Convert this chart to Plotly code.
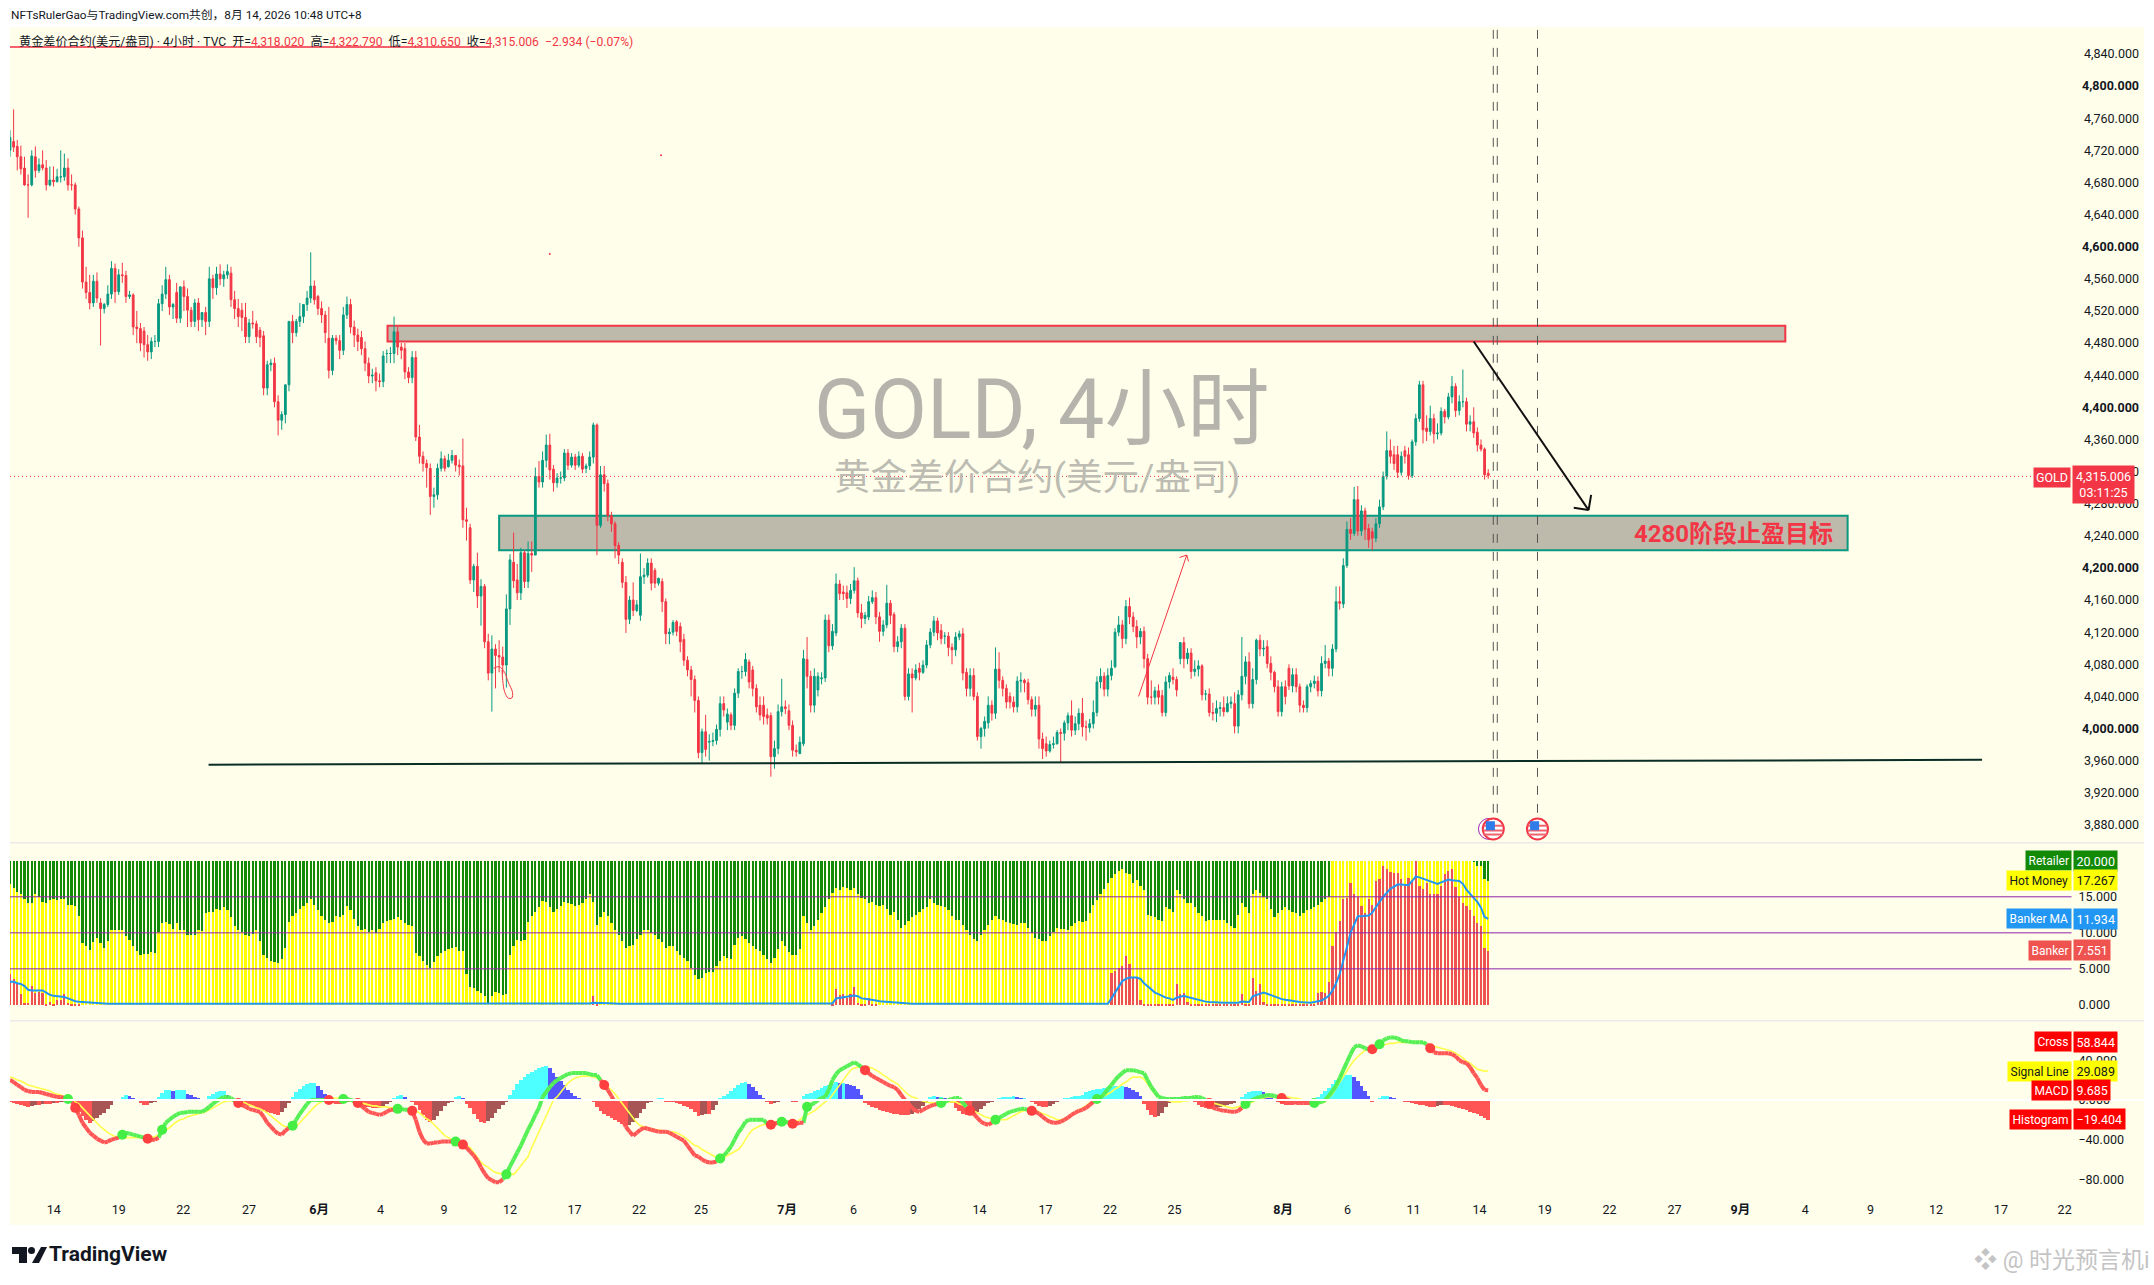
import plotly.graph_objects as go

W = 2154
H = 1285

opens = [
    4720,4731,4725,4712,4698,4677,4677,4712,4695,4702,
    4698,4677,4683,4681,4687,4687,4698,4677,4677,4647,
    4611,4556,4543,4530,4557,4530,4523,4528,4541,4573,
    4544,4565,4564,4538,4540,4500,4498,4495,4478,4469,
    4482,4482,4529,4541,4559,4525,4543,4511,4550,4538,
    4521,4507,4530,4509,4518,4507,4560,4549,4566,4560,
    4565,4567,4534,4523,4521,4512,4488,4505,4504,4496,
    4489,4424,4453,4455,4407,4384,4391,4428,4507,4493,
    4507,4513,4528,4536,4551,4538,4523,4515,4486,4446,
    4486,4483,4471,4515,4528,4500,4490,4487,4473,4455,
    4439,4443,4433,4432,4467,4467,4467,4494,4475,4473,
    4444,4437,4462,4363,4339,4330,4324,4289,4291,4324,
    4336,4326,4334,4340,4328,4327,4260,4250,4185,4202,
    4165,4177,4108,4069,4099,4091,4089,4079,4149,4207,
    4185,4169,4219,4183,4218,4216,4314,4307,4334,4353,
    4323,4306,4312,4312,4343,4328,4338,4328,4339,4324,
    4327,4338,4378,4253,4316,4305,4265,4255,4228,4207,
    4182,4136,4160,4147,4141,4189,4191,4206,4197,4181,
    4183,4158,4118,4120,4133,4127,4111,4085,4073,4061,
    4035,3970,3996,3983,3984,3985,3999,4031,4008,4017,
    4004,4044,4071,4071,4083,4073,4050,4029,4029,4017,
    4016,3965,3975,4021,4027,4022,4004,3973,3969,3981,
    4086,4065,4029,4048,4062,4063,4135,4103,4119,4180,
    4170,4169,4162,4172,4184,4144,4137,4139,4158,4163,
    4139,4121,4129,4156,4142,4102,4108,4125,4040,4068,
    4063,4075,4070,4079,4104,4120,4134,4122,4115,4115,
    4101,4098,4114,4118,4070,4050,4066,4040,3990,4000,
    4007,4029,4019,4074,4060,4050,4040,4033,4027,4059,
    4060,4057,4036,4024,4029,3987,3981,3972,3980,3981,
    3995,3994,4007,4016,3998,4006,4019,4002,4001,4006,
    4020,4058,4065,4049,4066,4077,4120,4129,4112,4152,
    4139,4127,4114,4121,4087,4039,4039,4047,4041,4020,
    4058,4064,4061,4087,4107,4087,4094,4071,4074,4078,
    4043,4043,4020,4019,4025,4026,4021,4031,4031,4003,
    4042,4065,4083,4031,4061,4110,4099,4102,4081,4070,
    4052,4021,4052,4075,4053,4067,4052,4029,4026,4052,
    4056,4059,4047,4081,4084,4075,4099,4158,4155,4203,
    4248,4243,4285,4246,4271,4249,4245,4237,4255,4276,
    4314,4346,4341,4341,4319,4346,4341,4315,4357,4386,
    4428,4374,4370,4386,4367,4368,4395,4388,4413,4426,
    4396,4407,4407,4379,4382,4369,4353,4348,4318,
]
highs = [
    4745,4771,4733,4726,4712,4690,4720,4725,4710,4720,
    4708,4700,4700,4697,4720,4716,4710,4690,4680,4650,
    4620,4575,4565,4565,4568,4536,4530,4552,4582,4579,
    4572,4580,4570,4545,4542,4520,4505,4500,4490,4487,
    4490,4535,4552,4575,4565,4530,4555,4535,4558,4548,
    4525,4535,4536,4516,4525,4575,4565,4575,4578,4570,
    4578,4575,4545,4535,4530,4530,4510,4520,4508,4500,
    4495,4458,4460,4462,4415,4395,4395,4440,4515,4510,
    4530,4528,4545,4593,4558,4540,4532,4520,4525,4490,
    4490,4490,4525,4538,4535,4508,4498,4495,4482,4462,
    4448,4450,4442,4470,4472,4475,4513,4500,4480,4480,
    4450,4470,4470,4378,4345,4335,4330,4300,4330,4345,
    4340,4342,4347,4333,4335,4361,4275,4255,4205,4219,
    4186,4180,4118,4116,4105,4110,4102,4167,4217,4244,
    4205,4225,4222,4233,4233,4325,4333,4345,4366,4367,
    4328,4318,4320,4348,4348,4343,4342,4345,4343,4330,
    4345,4381,4380,4327,4327,4310,4270,4258,4232,4212,
    4190,4165,4182,4160,4218,4200,4212,4212,4200,4188,
    4187,4162,4125,4135,4135,4132,4118,4090,4078,4066,
    4040,4000,4017,3993,3995,4005,4040,4040,4025,4020,
    4050,4075,4078,4094,4086,4078,4055,4040,4040,4025,
    4020,3985,4030,4062,4035,4030,4010,3980,3990,4098,
    4114,4072,4075,4070,4070,4142,4142,4130,4193,4185,
    4178,4178,4180,4201,4188,4155,4145,4165,4172,4170,
    4145,4135,4179,4160,4145,4115,4130,4130,4075,4075,
    4080,4082,4085,4110,4125,4140,4138,4130,4120,4120,
    4106,4120,4122,4125,4075,4075,4075,4045,4002,4015,
    4040,4035,4101,4095,4065,4055,4045,4040,4065,4070,
    4062,4062,4040,4040,4040,3995,3990,3985,3990,3998,
    4000,4010,4020,4035,4015,4025,4038,4010,4012,4035,
    4065,4075,4070,4075,4085,4125,4140,4135,4160,4163,
    4145,4135,4125,4127,4093,4060,4052,4055,4048,4065,
    4070,4075,4065,4095,4114,4100,4100,4085,4085,4080,
    4048,4050,4032,4035,4033,4040,4040,4040,4045,4048,
    4114,4090,4095,4075,4112,4117,4110,4110,4090,4072,
    4060,4058,4060,4080,4075,4075,4056,4035,4055,4060,
    4066,4065,4090,4104,4088,4105,4177,4177,4212,4258,
    4262,4301,4302,4278,4275,4255,4250,4262,4285,4320,
    4370,4360,4352,4352,4345,4352,4350,4360,4392,4433,
    4433,4390,4402,4392,4380,4400,4398,4418,4439,4430,
    4415,4447,4412,4390,4400,4375,4360,4350,4323,
]
lows = [
    4712,4718,4695,4690,4676,4636,4675,4686,4692,4695,
    4670,4675,4675,4680,4680,4682,4670,4670,4640,4600,
    4548,4535,4522,4525,4530,4477,4517,4525,4535,4530,
    4540,4555,4530,4535,4490,4480,4470,4462,4458,4460,
    4475,4475,4520,4535,4515,4510,4505,4505,4520,4500,
    4500,4500,4495,4500,4490,4500,4535,4540,4552,4550,
    4560,4525,4510,4500,4495,4480,4480,4498,4480,4475,
    4415,4415,4445,4400,4365,4372,4380,4420,4480,4488,
    4500,4505,4520,4530,4528,4515,4505,4480,4436,4440,
    4478,4460,4465,4510,4492,4475,4470,4465,4445,4430,
    4430,4420,4425,4425,4455,4455,4455,4465,4460,4435,
    4430,4430,4358,4330,4320,4300,4266,4275,4285,4320,
    4320,4325,4330,4320,4315,4250,4234,4180,4170,4150,
    4128,4100,4060,4021,4050,4070,4068,4051,4129,4175,
    4160,4160,4175,4175,4195,4259,4300,4300,4325,4310,
    4295,4300,4305,4308,4322,4325,4322,4325,4318,4318,
    4322,4330,4216,4250,4295,4258,4245,4212,4205,4175,
    4119,4130,4140,4145,4134,4180,4188,4172,4175,4178,
    4145,4105,4105,4116,4115,4095,4078,4065,4040,4020,
    3963,3957,3965,3960,3978,3980,3990,4015,3998,3998,
    3998,4038,4062,4065,4050,4040,4020,4010,4005,4005,
    3940,3950,3968,4015,4018,3998,3965,3965,3968,3978,
    4050,4020,4020,4040,4055,4058,4095,4098,4115,4160,
    4160,4150,4155,4168,4138,4125,4130,4135,4155,4130,
    4108,4115,4125,4130,4095,4095,4100,4035,4035,4020,
    4060,4060,4068,4075,4100,4115,4110,4105,4105,4090,
    4080,4090,4110,4060,4040,4040,4035,3985,3975,3990,
    4000,4010,4012,4050,4040,4025,4025,4020,4020,4045,
    4045,4030,4015,4015,3975,3962,3965,3970,3975,3980,
    3957,3985,3998,3990,3992,3998,3990,3985,3995,4000,
    4015,4050,4040,4040,4060,4075,4115,4100,4105,4130,
    4120,4100,4105,4075,4030,4030,4030,4030,4015,4015,
    4050,4055,4040,4080,4075,4080,4062,4065,4065,4035,
    4035,4015,4010,4008,4015,4015,4020,4025,3994,3994,
    4035,4055,4025,4025,4055,4090,4090,4075,4060,4045,
    4015,4015,4030,4048,4045,4045,4020,4020,4020,4045,
    4050,4040,4040,4075,4065,4065,4095,4148,4150,4200,
    4235,4240,4240,4240,4235,4225,4222,4232,4250,4272,
    4310,4330,4322,4312,4315,4330,4310,4312,4352,4382,
    4355,4358,4365,4355,4360,4365,4380,4385,4405,4388,
    4390,4400,4370,4370,4362,4345,4345,4310,4311,
]
closes = [
    4736,4724,4712,4697,4677,4677,4713,4695,4702,4698,
    4677,4683,4681,4687,4687,4698,4677,4677,4647,4611,
    4556,4543,4530,4557,4536,4523,4528,4541,4573,4544,
    4565,4564,4538,4540,4500,4498,4480,4478,4469,4482,
    4482,4529,4541,4559,4525,4528,4511,4550,4538,4521,
    4507,4530,4509,4518,4507,4560,4549,4566,4560,4565,
    4569,4534,4523,4513,4512,4488,4505,4504,4488,4487,
    4424,4453,4455,4407,4384,4391,4428,4507,4493,4507,
    4513,4528,4536,4551,4534,4523,4515,4493,4446,4486,
    4483,4471,4515,4528,4500,4490,4482,4473,4455,4439,
    4440,4433,4432,4464,4467,4467,4494,4475,4471,4444,
    4437,4462,4363,4339,4330,4325,4289,4291,4324,4336,
    4324,4334,4340,4328,4326,4260,4258,4185,4202,4165,
    4177,4108,4069,4099,4091,4089,4079,4149,4210,4184,
    4169,4219,4183,4218,4216,4314,4307,4334,4353,4322,
    4306,4312,4312,4343,4328,4338,4328,4339,4323,4327,
    4338,4378,4253,4316,4305,4265,4255,4228,4216,4182,
    4136,4160,4147,4154,4189,4191,4206,4181,4181,4187,
    4158,4118,4120,4132,4121,4108,4085,4073,4061,4035,
    3970,3996,3974,3984,3985,3999,4031,4023,4018,4004,
    4044,4071,4071,4086,4058,4050,4027,4017,4015,4013,
    3965,3975,4021,4027,4025,4004,3973,3971,3983,4087,
    4065,4029,4065,4065,4063,4135,4103,4121,4180,4168,
    4168,4162,4172,4184,4144,4137,4141,4158,4163,4139,
    4121,4129,4156,4141,4102,4108,4125,4040,4068,4063,
    4073,4070,4079,4104,4120,4134,4119,4112,4115,4101,
    4098,4114,4118,4069,4050,4066,4040,3990,4000,4009,
    4029,4019,4074,4060,4050,4033,4033,4027,4059,4060,
    4057,4036,4024,4029,3987,3975,3972,3980,3981,3995,
    3994,4007,4016,3998,4006,4019,4002,4002,4006,4020,
    4058,4065,4049,4066,4075,4120,4129,4112,4152,4139,
    4127,4114,4121,4087,4039,4039,4047,4039,4020,4058,
    4066,4061,4048,4107,4087,4094,4071,4074,4078,4042,
    4043,4020,4019,4025,4026,4021,4031,4033,4003,4042,
    4065,4083,4031,4061,4110,4099,4100,4081,4070,4052,
    4021,4052,4040,4053,4067,4052,4029,4026,4052,4056,
    4059,4047,4081,4084,4075,4099,4158,4156,4203,4248,
    4243,4285,4246,4271,4248,4235,4237,4255,4276,4314,
    4346,4339,4330,4319,4339,4339,4315,4357,4386,4428,
    4372,4370,4386,4367,4368,4395,4388,4413,4426,4396,
    4407,4407,4379,4382,4368,4353,4348,4316,4315,
]

hot_money = [
    16.8,16.3,15.8,15.4,14.8,14.2,14.2,15.4,15.0,14.4,
    14.2,14.6,14.8,14.6,14.7,14.7,14.0,14.0,13.8,12.4,
    8.7,8.2,7.7,8.8,9.4,8.6,8.0,9.0,10.4,10.5,
    10.4,10.4,9.6,9.1,8.2,7.6,7.0,7.2,7.1,7.4,
    7.3,10.2,11.5,11.6,11.3,10.6,11.5,10.4,10.5,9.8,
    9.8,9.8,10.4,10.3,12.8,12.9,13.0,13.4,13.2,13.6,
    13.3,12.2,11.0,10.4,10.2,9.8,9.6,9.9,10.5,9.0,
    7.0,6.6,6.2,6.0,5.9,6.4,8.0,11.6,12.4,12.8,
    13.4,13.8,14.2,14.7,14.0,13.2,12.4,11.9,11.4,11.6,
    12.4,12.2,12.6,13.8,13.2,12.0,11.0,10.5,10.6,10.2,
    10.4,10.0,10.6,11.4,11.7,11.9,12.0,12.2,11.8,11.4,
    11.2,11.0,7.3,6.8,6.2,5.6,5.2,6.0,6.9,7.3,
    7.6,7.8,8.0,8.1,7.5,7.6,4.4,2.6,2.4,2.0,
    1.7,1.25,0.3,1.3,1.8,1.7,1.5,1.6,7.0,8.2,
    9.1,9.0,9.1,11.6,12.4,13.0,13.6,14.5,14.4,13.7,
    13.0,13.4,13.8,14.3,14.2,14.1,13.8,14.0,14.2,14.8,
    15.4,14.4,11.2,12.2,13.0,12.4,11.4,10.5,9.8,8.9,
    8.0,8.2,8.4,9.2,9.8,10.5,10.4,10.0,9.8,9.2,
    8.8,8.0,8.2,8.2,7.6,7.0,6.6,6.2,5.2,4.2,
    3.6,3.8,4.5,4.6,4.7,5.4,6.2,6.8,6.6,6.4,
    8.4,9.4,9.6,9.2,8.7,8.2,7.8,7.5,7.0,6.4,
    5.9,6.6,7.8,8.9,8.2,7.4,7.0,7.0,7.8,12.4,
    11.4,10.5,11.0,11.9,12.8,13.6,14.7,15.6,16.3,16.0,
    16.4,16.3,16.0,16.3,15.4,14.9,14.7,14.2,14.4,14.0,
    13.8,14.0,13.4,12.6,13.0,11.8,10.8,11.2,11.7,12.2,
    12.6,13.0,13.4,13.6,14.7,14.2,14.0,13.8,13.6,13.3,
    12.4,11.9,11.9,11.2,10.4,9.8,9.2,8.9,9.8,10.5,
    11.2,11.8,12.4,12.0,11.8,11.6,11.4,11.3,11.2,11.4,
    11.5,10.8,10.0,9.4,9.2,9.0,8.9,9.6,10.2,10.8,
    10.6,10.6,10.5,11.0,11.4,11.7,11.6,11.7,12.8,14.0,
    14.6,15.4,16.2,17.0,17.7,18.2,18.6,18.9,18.4,18.2,
    17.0,17.4,16.6,16.0,12.6,12.4,12.2,11.9,11.7,13.6,
    13.4,13.0,16.0,15.4,14.8,14.2,14.2,13.6,12.8,12.4,
    11.7,11.8,11.9,11.8,11.9,11.9,11.4,11.0,10.8,12.6,
    14.2,13.6,12.8,15.4,16.0,15.6,15.0,14.7,13.4,12.2,
    12.8,13.2,13.6,13.2,13.0,12.8,12.4,12.8,13.2,13.4,
    13.6,14.0,14.4,14.8,15.0,20.0,20.0,20.0,20.0,20.0,
    20.0,20.0,20.0,20.0,20.0,20.0,20.0,20.0,20.0,20.0,
    20.0,20.0,20.0,20.0,20.0,20.0,20.0,20.0,20.0,20.0,
    20.0,20.0,20.0,20.0,20.0,20.0,20.0,20.0,20.0,20.0,
    20.0,20.0,20.0,20.0,19.9,19.4,19.4,17.5,17.27,
]
banker = [
    4.4,3.7,3.0,1.6,0.3,0.3,2.7,1.7,1.8,1.7,
    0.2,0.5,0.2,0.8,0.8,1.6,0.3,0.1,0.1,0.1,
    0,0,0,0,0,0,0,0,0,0, 0,0,0,0,0,0,0,0,0,0,
    0,0,0,0,0,0,0,0,0,0, 0,0,0,0,0,0,0,0,0,0,
    0,0,0,0,0,0,0,0,0,0, 0,0,0,0,0,0,0,0,0,0,
    0,0,0,0,0,0,0,0,0,0, 0,0,0,0,0,0,0,0,0,0,
    0,0,0,0,0,0,0,0,0,0, 0,0,0,0,0,0,0,0,0,0,
    0,0,0,0,0,0,0,0,0,0, 0,0,0,0,0,0,0,0,0,0,
    0,0,0,0,0,0,0,0,0,0, 0,0,0,0,0,0,0,0,0,0,
    0,1.3,0.2,0,0,0,0,0,0,0, 0,0,0,0,0,0,0,0,0,0,
    0,0,0,0,0,0,0,0,0,0, 0,0,0,0,0,0,0,0,0,0,
    0,0,0,0,0,0,0,0,0,0, 0,0,0,0,0,0,0,0,0,0,
    0,0,0,0,0,0,0,0.1,2.3,1.5,
    1.6,1.0,1.6,2.5,0.3,0.1,0.1,1.0,0.1,0.1,
    0,0,0,0,0,0,0,0,0,0, 0,0,0,0,0,0,0,0,0,0,
    0,0,0,0,0,0,0,0,0,0, 0,0,0,0,0,0,0,0,0,0,
    0,0,0,0,0,0,0,0,0,0, 0,0,0,0,0,0,0,0,0,0,
    0,0,0,0,4.5,4.8,5.2,5.4,6.8,5.8,
    3.8,3.8,0.8,0.1,0.1,0.1,0.1,0.1,0.1,0.1,
    0.1,0.1,3.0,1.6,1.7,0.4,0.1,0.1,0.1,0.1,
    0.1,0.1,0.1,0.1,0.1,0.1,0.1,0.1,0.1,0.1,
    1.6,0.2,0.2,3.8,2.0,3.0,0.5,0.1,0.1,0.1,
    0.1,0.1,0.1,0.1,0.1,0.1,0.1,0.1,0.1,0.1,
    0.1,1.7,1.9,1.7,3.3,8.3,10.2,11.7,14.7,14.9,
    17.0,15.4,15.0,13.8,12.8,14.8,14.0,17.3,17.6,19.4,
    18.9,18.5,18.4,18.4,17.6,16.8,17.7,17.2,20.0,16.6,
    16.2,17.0,15.4,15.5,15.4,16.6,18.2,18.6,18.9,16.4,
    15.0,14.2,13.8,13.3,12.4,11.5,11.0,7.9,7.55,
]
banker_ma = [
    3.2,3.2,3.0,2.9,2.6,2.1,2.0,2.0,2.0,2.0,
    1.7,1.4,1.25,1.2,1.15,1.1,0.9,0.7,0.5,0.45,
    0.4,0.35,0.3,0.25,0.2,0.2,0.15,0.15,0.15,0.15,
    0.15,0.15,0.15,0.15,0.15,0.15,0.15,0.15,0.15,0.15,
    0.15,0.15,0.15,0.15,0.15,0.15,0.15,0.15,0.15,0.15,
    0.15,0.15,0.15,0.15,0.15,0.15,0.15,0.15,0.15,0.15,
    0.15,0.15,0.15,0.15,0.15,0.15,0.15,0.15,0.15,0.15,
    0.15,0.15,0.15,0.15,0.15,0.15,0.15,0.15,0.15,0.15,
    0.15,0.15,0.15,0.15,0.15,0.15,0.15,0.15,0.15,0.15,
    0.15,0.15,0.15,0.15,0.15,0.15,0.15,0.15,0.15,0.15,
    0.15,0.15,0.15,0.15,0.15,0.15,0.15,0.15,0.15,0.15,
    0.15,0.15,0.15,0.15,0.15,0.15,0.15,0.15,0.15,0.15,
    0.15,0.15,0.15,0.15,0.15,0.15,0.15,0.15,0.15,0.15,
    0.15,0.15,0.15,0.15,0.15,0.15,0.15,0.15,0.15,0.15,
    0.15,0.15,0.15,0.15,0.15,0.15,0.15,0.15,0.15,0.15,
    0.15,0.15,0.15,0.15,0.15,0.15,0.15,0.15,0.15,0.15,
    0.2,0.3,0.3,0.25,0.25,0.25,0.2,0.2,0.15,0.15,
    0.15,0.15,0.15,0.15,0.15,0.15,0.15,0.15,0.15,0.15,
    0.15,0.15,0.15,0.15,0.15,0.15,0.15,0.15,0.15,0.15,
    0.15,0.15,0.15,0.15,0.15,0.15,0.15,0.15,0.15,0.15,
    0.15,0.15,0.15,0.15,0.15,0.15,0.15,0.15,0.15,0.15,
    0.15,0.15,0.15,0.15,0.15,0.15,0.15,0.15,0.15,0.15,
    0.15,0.15,0.15,0.15,0.15,0.15,0.15,0.2,0.9,1.0,
    1.0,1.1,1.2,1.3,1.2,0.9,0.85,0.8,0.7,0.6,
    0.5,0.45,0.4,0.35,0.3,0.25,0.2,0.2,0.15,0.15,
    0.15,0.15,0.15,0.15,0.15,0.15,0.15,0.15,0.15,0.15,
    0.15,0.15,0.15,0.15,0.15,0.15,0.15,0.15,0.15,0.15,
    0.15,0.15,0.15,0.15,0.15,0.15,0.15,0.15,0.15,0.15,
    0.15,0.15,0.15,0.15,0.15,0.15,0.15,0.15,0.15,0.15,
    0.15,0.15,0.15,0.15,0.15,0.15,0.15,0.15,0.15,0.15,
    0.15,0.15,0.15,0.15,0.9,1.7,2.5,3.3,3.6,3.8,
    3.8,3.8,3.6,3.0,2.6,2.2,1.7,1.5,1.2,1.0,
    0.9,0.7,1.0,1.1,1.25,1.1,0.95,0.8,0.7,0.55,
    0.45,0.4,0.35,0.3,0.3,0.3,0.3,0.3,0.3,0.3,
    0.45,0.45,0.4,1.2,1.35,1.6,1.7,1.55,1.35,1.1,
    0.9,0.8,0.7,0.6,0.5,0.45,0.4,0.35,0.3,0.3,
    0.4,0.45,0.6,0.9,1.25,2.0,3.0,4.3,6.0,8.0,
    10.0,11.2,12.3,12.3,12.3,12.4,12.8,13.6,14.3,15.0,
    15.6,16.1,16.4,16.7,16.7,16.6,16.6,17.2,17.8,17.7,
    17.5,17.4,17.2,17.0,16.8,17.0,17.2,17.4,17.3,17.2,
    17.2,16.8,16.0,15.4,14.9,14.3,13.5,12.2,11.93,
]

macd = [
    20,18,15,13,10,9,8,8,8,7, 6,5,4,3,3,2,1,-1,-8,-15,
    -23,-28,-33,-36,-39,-41,-43,-42,-40,-39, -38,-35,-33,-34,-35,-36,-37,-38,-39,-40,
    -40,-38,-30,-23,-20,-17,-15,-13,-13,-12, -12,-12,-12,-12,-10,-7,-4,-1,1,3,
    3,2,-1,-3,-5,-7,-9,-10,-11,-12, -17,-23,-27,-31,-34,-35,-31,-28,-26,-20,
    -14,-9,-4,0,0,0,0,0,0,-1, -2,-1,1,1,0,-1,-3,-6,-9,-12,
    -13,-14,-15,-14,-12,-10,-10,-9,-9,-10, -10,-11,-20,-32,-40,-44,-44,-43,-43,-42,
    -42,-42,-42,-42,-43,-45,-48,-52,-56,-61, -68,-74,-79,-81,-83,-83,-80,-75,-67,-60,
    -53,-46,-38,-30,-23,-15,-8,3,8,13, 17,20,22,24,26,27,27,27,27,27,
    26,25,25,20,15,10,4,-3,-13,-20, -27,-32,-36,-33,-30,-28,-29,-30,-31,-32,
    -32,-32,-33,-35,-37,-39,-41,-46,-51,-56, -57,-60,-62,-63,-63,-62,-59,-56,-52,-47,
    -40,-33,-28,-22,-20,-20,-20,-20,-20,-24, -25,-24,-23,-22,-22,-23,-24,-24,-23,-23,
    -7,-5,-3,0,2,3,10,20,26,30, 32,34,36,38,36,33,30,27,24,22,
    20,18,16,14,13,10,5,0,-4,-8, -11,-12,-10,-8,-6,-5,-4,-3,-2,0,
    1,2,2,-3,-7,-11,-14,-18,-22,-24, -25,-23,-20,-18,-16,-14,-12,-11,-10,-9,
    -9,-10,-11,-12,-14,-17,-20,-22,-23,-23, -22,-20,-18,-15,-13,-11,-10,-8,-5,-2,
    1,2,6,11,15,20,24,27,30,30, 30,29,28,27,20,13,8,3,2,1,
    1,1,1,1,2,2,2,3,3,2, 0,-3,-8,-9,-10,-11,-11,-12,-12,-11,
    -8,-4,-1,0,2,3,4,5,5,4, 3,2,1,0,-2,-3,-3,-3,-3,-3,
    -3,-3,-2,0,4,9,14,22,30,38, 46,53,55,54,52,51,51,52,56,60,
    62,63,63,62,60,59,59,58,58,58, 58,56,52,48,47,47,47,47,46,44,
    40,38,37,33,27,22,15,10,9.7,
]
signal = [
    23,22,20,19,17,15,14,13,12,11, 10,9,7,6,5,3,1,-1,-2,-4,
    -8,-12,-16,-20,-23,-27,-30,-33,-35,-37, -37,-37,-38,-38,-38,-38,-38,-38,-38,-38,
    -37,-35,-33,-30,-28,-25,-22,-20,-19,-17, -16,-15,-14,-13,-12,-10,-8,-6,-4,-2,
    -1,-1,-1,-2,-2,-3,-5,-6,-8,-9, -11,-13,-16,-19,-22,-25,-27,-27,-27,-26,
    -23,-19,-15,-10,-7,-4,-2,0,1,2, 2,2,1,0,-1,-2,-2,-3,-4,-5,
    -6,-6,-7,-7,-7,-8,-8,-9,-9,-10, -10,-10,-11,-13,-16,-19,-21,-25,-29,-33,
    -36,-38,-40,-42,-43,-44,-46,-48,-53,-58, -63,-66,-68,-71,-73,-74,-75,-75,-75,-75,
    -71,-66,-62,-57,-48,-40,-32,-23,-15,-7, 0,3,8,12,17,20,22,23,24,24,
    24,23,22,20,17,13,10,6,1,-3, -8,-13,-18,-23,-26,-27,-28,-29,-30,-30,
    -31,-31,-32,-32,-33,-35,-37,-40,-43,-46, -47,-50,-52,-54,-56,-58,-59,-58,-56,-54,
    -52,-50,-46,-40,-34,-30,-28,-26,-25,-24, -23,-22,-22,-22,-23,-23,-23,-22,-20,-17,
    -15,-13,-11,-8,-5,-2,0,5,10,15, 20,25,30,32,33,33,33,33,32,30,
    28,25,23,20,18,16,12,8,5,3, 2,0,-1,-2,-3,-3,-3,-3,-2,-2,
    -2,-2,-4,-5,-7,-9,-11,-13,-15,-17, -18,-19,-20,-20,-20,-20,-18,-16,-14,-12,
    -11,-10,-10,-10,-12,-14,-15,-17,-18,-20, -20,-19,-17,-14,-12,-10,-8,-6,-3,-1,
    1,2,4,6,8,11,13,16,18,21, 23,23,23,21,16,10,6,3,1,0,
    -1,-2,-2,-2,-1,-1,0,0,0,0, -1,-2,-3,-4,-5,-6,-7,-8,-8,-7,
    -6,-5,-3,-2,0,1,2,3,3,3, 3,3,3,3,2,2,1,0,-1,-2,
    -3,-3,-3,-2,2,6,12,18,24,30, 35,40,44,47,50,51,52,53,54,55,
    56,57,57,58,58,58,58,58,58,58, 57,56,55,54,53,52,51,50,49,47,
    45,42,39,37,34,31,30,29,29.1,
]
hist = [
    -1,-3,-4,-5,-6,-7,-6,-5,-5,-4, -4,-4,-3,-3,-2,-2,-1,-1,-7,-12,
    -16,-20,-23,-21,-18,-15,-13,-9,-5,0, 1,3,5,4,2,1,-3,-5,-5,-3,
    -1,3,7,11,11,10,11,11,11,6, 5,3,2,1,1,4,6,8,9,9,
    5,2,-1,-3,-4,-5,-6,-6,-8,-9, -10,-12,-13,-14,-15,-12,-8,-3,3,8,
    12,15,17,18,18,15,11,6,3,-2, -4,-4,-2,-1,-1,-3,-4,-6,-7,-7,
    -8,-8,-8,-7,-4,-1,2,4,5,3, 1,-1,-5,-10,-15,-20,-22,-20,-16,-11,
    -6,-3,-1,3,4,2,-4,-8,-14,-19, -22,-23,-21,-18,-13,-9,-5,-1,5,11,
    17,21,24,27,29,31,33,34,35,33, 28,24,20,16,11,7,4,2,1,0,
    1,-2,-7,-11,-14,-16,-18,-20,-22,-24, -26,-25,-22,-18,-13,-9,-3,-1,1,2,
    2,-1,-2,-2,-3,-4,-6,-7,-9,-12, -16,-15,-14,-14,-10,-5,2,4,6,9,
    13,16,18,19,17,14,10,5,2,-2, -4,-3,-1,1,1,0,-1,-1,1,4,
    6,7,9,11,13,15,16,17,19,18, 18,17,16,15,12,5,-3,-5,-7,-8,
    -10,-11,-12,-13,-14,-14,-15,-15,-15,-14, -12,-9,-6,-3,3,4,3,3,2,1,
    -3,-8,-11,-14,-15,-15,-14,-12,-9,-6, -3,-1,0,2,3,3,3,4,3,2,
    2,1,-1,-4,-6,-7,-7,-6,-4,-2, 1,2,2,3,4,4,5,8,10,11,
    12,12,13,14,14,15,15,15,14,13, 11,8,4,-4,-10,-15,-17,-16,-13,-7,
    -3,1,3,3,3,2,1,-2,-5,-7, -8,-9,-9,-8,-7,-6,-5,-4,-3,1,
    3,6,8,9,10,10,8,6,4,1, -2,-4,-5,-5,-5,-4,-3,-3,-2,-2,
    1,3,6,9,13,17,21,23,25,26, 26,24,20,15,9,4,-1,1,2,4,
    4,3,2,1,1,-1,-2,-3,-4,-5, -5,-6,-7,-7,-6,-5,-5,-5,-6,-7,
    -8,-9,-10,-12,-13,-14,-16,-18,-19.4,
]

bars = list(range(len(closes)))
retailer = [20.0] * len(bars)

tick_bars = [12.1, 30, 47.8, 66, 85.3, 102.3, 119.8, 138, 155.8, 173.6, 190.7, 214.5, 232.8, 249.4, 267.6, 285.8,
             303.6, 321.4, 351.4, 369.2, 387.4, 405.6, 423.6, 441.5, 459.4, 477.6, 495.5, 513.5, 531.6, 549.5, 567.1]
tick_days = ['14', '19', '22', '27', '<b>6月</b>', '4', '9', '12', '17', '22', '25', '<b>7月</b>', '6', '9', '14', '17',
             '22', '25', '<b>8月</b>', '6', '11', '14', '19', '22', '27', '<b>9月</b>', '4', '9', '12', '17', '22']

price_ticks = list(range(3880, 4841, 40))
price_labels = [f'<b>{p:,}.000</b>' if p % 200 == 0 else f'{p:,}.000' for p in price_ticks]
flow_ticks = [0, 5, 10, 15]
flow_labels = ['0.000\u2007\u2007', '5.000\u2007\u2007', '10.000\u2007', '15.000\u2007']
macd_ticks = [-80, -40, 0, 40]
macd_labels = ['−80.000', '−40.000', '0.000\u2007\u2007', '40.000\u2007']

UP = '#089981'
DOWN = '#f23645'
BG = '#fffeeb'
TEXT = '#131722'
FONT = 'Roboto, Noto Sans CJK SC'


def py(y):
    return 1 - y / H


def px(x):
    return x / W


fig = go.Figure()

# main pane
fig.add_trace(go.Candlestick(x=bars, open=opens, high=highs, low=lows, close=closes,
                             increasing=dict(line=dict(color=UP, width=1), fillcolor=UP),
                             decreasing=dict(line=dict(color=DOWN, width=1), fillcolor=DOWN),
                             whiskerwidth=0, hoverinfo='skip', yaxis='y'))

# hand drawn loop under the june low
fig.add_trace(go.Scatter(x=[133.5, 135, 136.5, 137.5, 138.7, 138.5, 137.5, 136.5, 136, 135.8],
                         y=[4075, 4077, 4070, 4058, 4045, 4038, 4038, 4046, 4060, 4073],
                         mode='lines', line=dict(color=DOWN, width=1, shape='spline'), yaxis='y', hoverinfo='skip'))
fig.add_trace(go.Scatter(x=[179.7, 149], y=[4714, 4591], mode='markers',
                         marker=dict(color=DOWN, size=2), yaxis='y', hoverinfo='skip'))

# event flags
event_bars = [409.4, 421.6]
fig.add_trace(go.Scatter(x=[408.2], y=[3875], mode='markers', yaxis='y', hoverinfo='skip',
                         marker=dict(size=21, color='white', line=dict(color='#9c27b0', width=1))))
fig.add_trace(go.Scatter(x=event_bars, y=[3875, 3875], mode='markers', yaxis='y', hoverinfo='skip',
                         marker=dict(size=21, color='#ffffff', line=dict(color=DOWN, width=2))))
for level in [3879, 3873, 3868]:
    fig.add_trace(go.Scatter(x=event_bars, y=[level, level], mode='markers', yaxis='y', hoverinfo='skip',
                             marker=dict(size=14, symbol='line-ew', line=dict(color='#f0626c', width=2))))
fig.add_trace(go.Scatter(x=[e - 0.8 for e in event_bars], y=[3879, 3879], mode='markers', yaxis='y', hoverinfo='skip',
                         marker=dict(size=9, symbol='square', color='#2f7be8')))

# banker / hot money pane
fig.add_trace(go.Bar(x=bars, y=retailer, width=0.62, marker=dict(color='#138a07', line_width=0), yaxis='y2', hoverinfo='skip'))
fig.add_trace(go.Bar(x=bars, y=hot_money, width=0.62, marker=dict(color='#ffff00', line_width=0), yaxis='y2', hoverinfo='skip'))
fig.add_trace(go.Bar(x=bars, y=banker, width=0.62, marker=dict(color='#ef5350', line_width=0), yaxis='y2', hoverinfo='skip'))
fig.add_trace(go.Scatter(x=bars, y=banker_ma, mode='lines', line=dict(color='#2196f3', width=2), yaxis='y2', hoverinfo='skip'))

# macd pane
hist_colors = []
for i, v in enumerate(hist):
    prev = hist[i - 1] if i else v
    if v >= 0:
        hist_colors.append('#4dffff' if v >= prev else '#5555ff')
    else:
        hist_colors.append('#ff5555' if v <= prev else '#a85555')
fig.add_trace(go.Bar(x=bars, y=hist, width=1.0, marker=dict(color=hist_colors, line_width=0), yaxis='y3', hoverinfo='skip'))
fig.add_trace(go.Scatter(x=bars, y=signal, mode='lines', line=dict(color='#ffff4d', width=1.6), yaxis='y3', hoverinfo='skip'))

up_x, up_y, dn_x, dn_y = [], [], [], []
cross_x, cross_y, cross_c = [], [], []
for i in range(1, len(bars)):
    rising = macd[i] >= signal[i]
    if rising:
        up_x += [i - 1, i, None]
        up_y += [macd[i - 1], macd[i], None]
    else:
        dn_x += [i - 1, i, None]
        dn_y += [macd[i - 1], macd[i], None]
    if rising != (macd[i - 1] >= signal[i - 1]):
        cross_x.append(i)
        cross_y.append(macd[i])
        cross_c.append('#44ee44' if rising else '#ff4040')
fig.add_trace(go.Scatter(x=up_x, y=up_y, mode='lines', line=dict(color='#55f055', width=4), yaxis='y3', hoverinfo='skip'))
fig.add_trace(go.Scatter(x=dn_x, y=dn_y, mode='lines', line=dict(color='#ff5555', width=4), yaxis='y3', hoverinfo='skip'))
fig.add_trace(go.Scatter(x=cross_x, y=cross_y, mode='markers', marker=dict(color=cross_c, size=10), yaxis='y3', hoverinfo='skip'))

shapes = []
# zones
shapes.append(dict(type='rect', xref='x', yref='y', x0=104.2, x1=490, y0=4482, y1=4501.5, layer='below',
                   fillcolor='#bdbaab', line=dict(color=DOWN, width=2)))
shapes.append(dict(type='rect', xref='x', yref='y', x0=135, x1=507.2, y0=4222, y1=4265, layer='below',
                   fillcolor='#bdbaab', line=dict(color=UP, width=2)))
# support line
shapes.append(dict(type='line', xref='x', yref='y', x0=54.8, x1=544.3, y0=3955, y1=3961, line=dict(color='#0a2e25', width=2)))
# event lines
for e in [409.4, 410.5, 421.6]:
    shapes.append(dict(type='line', xref='x', yref='y', x0=e, x1=e, y0=3895, y1=4873,
                       line=dict(color='#555555', width=1, dash='dash')))
# last price
shapes.append(dict(type='line', xref='x', yref='y', x0=0, x1=558, y0=4314, y1=4314,
                   line=dict(color=DOWN, width=1, dash='1px,3px')))
# black arrow
for seg in [(404, 4482, 435.7, 4272), (431.6, 4275, 435.7, 4272), (436.4, 4291, 435.7, 4272)]:
    shapes.append(dict(type='line', xref='x', yref='y', x0=seg[0], y0=seg[1], x1=seg[2], y1=seg[3],
                       line=dict(color='#111111', width=2)))
# thin red arrow
for seg in [(311.5, 4040, 324.8, 4216), (322.8, 4213, 324.8, 4216), (325.3, 4208, 324.8, 4216)]:
    shapes.append(dict(type='line', xref='x', yref='y', x0=seg[0], y0=seg[1], x1=seg[2], y1=seg[3],
                       line=dict(color=DOWN, width=1)))
# level lines of the second pane
for lv in [5, 10, 15]:
    shapes.append(dict(type='line', xref='x', yref='y2', x0=0, x1=569, y0=lv, y1=lv, line=dict(color='#8e24aa', width=1)))
# zero line of macd pane
shapes.append(dict(type='line', xref='x', yref='y3', x0=0, x1=589, y0=0, y1=0, line=dict(color='#ffffff', width=2)))
# pane separators
for sep in [842.7, 1020.7]:
    shapes.append(dict(type='line', xref='paper', yref='paper', x0=px(10), x1=px(2144), y0=py(sep), y1=py(sep),
                       line=dict(color='#e9e9e6', width=1.5)))
# legend underline
shapes.append(dict(type='line', xref='paper', yref='paper', x0=px(10), x1=px(491), y0=py(47), y1=py(47),
                   line=dict(color='#f6606c', width=2)))
# tradingview mark
logo = [
    f'M {px(12)},{py(1247)} L {px(27)},{py(1247)} L {px(27)},{py(1263)} L {px(19)},{py(1263)} L {px(19)},{py(1254)} L {px(12)},{py(1254)} Z',
    f'M {px(41)},{py(1247)} L {px(47)},{py(1247)} L {px(39)},{py(1263)} L {px(32)},{py(1263)} Z',
]
for p in logo:
    shapes.append(dict(type='path', xref='paper', yref='paper', path=p, fillcolor='#131722', line_width=0))
shapes.append(dict(type='circle', xref='paper', yref='paper', x0=px(28), x1=px(35), y0=py(1254), y1=py(1247),
                   fillcolor='#131722', line_width=0))

annotations = []


def note(text, x, y, size=12, color=TEXT, anchor='left', xref='paper', yref='paper', **kw):
    annotations.append(dict(text=text, x=x, y=y, xref=xref, yref=yref, xanchor=anchor, yanchor='middle',
                            showarrow=False, font=dict(family=FONT, size=size, color=color), **kw))


note('NFTsRulerGao与TradingView.com共创，8月 14, 2026 10:48 UTC+8', px(9), py(15), size=11.8)
red = lambda s: f'<span style="color:{DOWN}">{s}</span>'
note('黄金差价合约(美元/盎司) · 4小时 · TVC  开=' + red('4,318.020') + '  高=' + red('4,322.790') + '  低=' + red('4,310.650')
     + '  收=' + red('4,315.006') + '  ' + red('−2.934 (−0.07%)'), px(17), py(41), size=12.15)
note('GOLD, 4小时', px(1041), py(409), size=82.5, color='#b4b4ac', anchor='center')
note('黄金差价合约(美元/盎司)', px(1037), py(477), size=36.6, color='#bcbcb2', anchor='center')
note('<b>4280阶段止盈目标</b>', px(1632), py(534), size=24, color=DOWN)
note('<b>TradingView</b>', px(47), py(1254), size=21, color=TEXT)
note('❖ @ 时光预言机i', px(1972), py(1260), size=23, color='#c4c4c4')

note('GOLD', px(2071), py(477.5), size=12.5, color='white', anchor='right', bgcolor=DOWN, borderpad=2)
note('4,315.006<br>03:11:25', px(2072), py(484.5), size=12.5, color='white', bgcolor=DOWN, borderpad=3)

tags = [
    ('Retailer', '20.000', 20.0, 'y2', '#138a07', 'white'),
    ('Hot Money', '17.267', 17.267, 'y2', '#ffff00', TEXT),
    ('Banker MA', '11.934', 11.934, 'y2', '#2196f3', 'white'),
    ('Banker', '7.551', 7.551, 'y2', '#ef5350', 'white'),
    ('Cross', '58.844', 58.844, 'y3', '#ff0000', 'white'),
    ('Signal Line', '29.089', 29.089, 'y3', '#ffff00', TEXT),
    ('MACD', '9.685', 9.685, 'y3', '#ff0000', 'white'),
    ('Histogram', '−19.404', -19.404, 'y3', '#ff0000', 'white'),
]
for name, value, level, axis, fill, ink in tags:
    note(name, px(2072), level, size=12, color=ink, anchor='right', yref=axis, bgcolor=fill, borderpad=2.5)
    note(value, px(2073), level, size=12.5, color=ink, yref=axis, bgcolor=fill, borderpad=2.5)

axis_common = dict(anchor='free', side='left', showgrid=False, zeroline=False, showline=False, ticks='',
                   tickfont=dict(family=FONT, size=12.5, color=TEXT))

fig.update_layout(
    width=W, height=H, autosize=False, margin=dict(l=0, r=0, t=0, b=0), paper_bgcolor='white', plot_bgcolor=BG,
    showlegend=False, barmode='overlay', bargap=0, shapes=shapes, annotations=annotations,
    xaxis=dict(domain=[px(10), px(2144)], range=[0, 589], anchor='y3', tickmode='array', tickvals=tick_bars, ticktext=tick_days,
               ticks='', ticklabelposition='inside', ticklabelstandoff=6, showgrid=False, zeroline=False, showline=False,
               rangeslider=dict(visible=False), tickfont=dict(family=FONT, size=12.5, color=TEXT)),
    yaxis=dict(domain=[py(842), py(27)], range=[3858.7, 4873.6], position=px(2139), tickmode='array',
               tickvals=price_ticks, ticktext=price_labels, **axis_common),
    yaxis2=dict(domain=[py(1020), py(843.5)], range=[-2.1, 22.4], position=px(2124), tickmode='array',
                tickvals=flow_ticks, ticktext=flow_labels, **axis_common),
    yaxis3=dict(domain=[py(1225), py(1021.5)], range=[-126, 79], position=px(2124), tickmode='array',
                tickvals=macd_ticks, ticktext=macd_labels, **axis_common),
)

fig.write_html("out.html", config={'displayModeBar': False}, post_script="document.body.style.margin='0';")
